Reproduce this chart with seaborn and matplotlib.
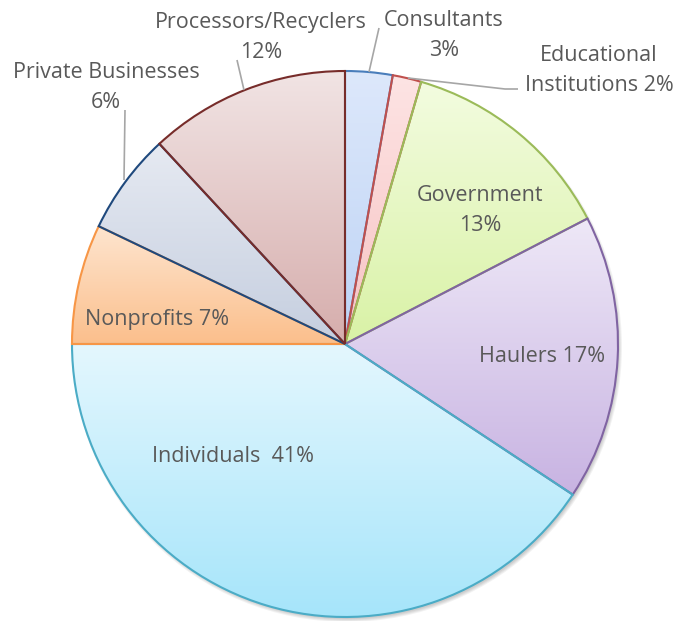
import numpy as np
import matplotlib
matplotlib.use("Agg")
import matplotlib.pyplot as plt
import seaborn as sns
from matplotlib.colors import to_rgb
from matplotlib.patches import Circle

# ---- data -------------------------------------------------------------
categories = ["Consultants", "Educational Institutions", "Government", "Haulers",
              "Individuals", "Nonprofits", "Private Businesses", "Processors/Recyclers"]
shares = [2.8, 1.7, 12.9, 16.9, 40.7, 7.1, 6.0, 11.9]

# label text pieces (name part, separator before the percentage)
label_names = ["Consultants", "Educational\nInstitutions", "Government", "Haulers",
               "Individuals", "Nonprofits", "Private Businesses", "Processors/Recyclers"]
label_seps = ["\n", " ", "\n", " ", "  ", " ", "\n", "\n"]

# ---- style ------------------------------------------------------------
edge_colors = ["#4a7ebb", "#c0504d", "#9bbb59", "#8064a2",
               "#4bacc6", "#f79646", "#1f497d", "#772c2a"]
grad_top = ["#dde8fb", "#fde4e4", "#f3fce0", "#eee8f7",
            "#e4f7fe", "#fee5cf", "#e6eaf2", "#f1e4e4"]
grad_bot = ["#bdd3f5", "#f7c3c3", "#d9f2a6", "#c8b3e2",
            "#a6e5fa", "#fbbf8c", "#c5cedf", "#d6adac"]

sns.set_theme(style="white")
plt.rcParams['font.family'] = ['Open Sans', 'DejaVu Sans']

W, H = 689, 621
fig = plt.figure(figsize=(W / 100, H / 100), dpi=100)
ax = fig.add_axes([0, 0, 1, 1])

cx, cy, R = 345, H - 344, 273

# soft drop shadow
for i, a in enumerate([0.05, 0.05, 0.05, 0.05]):
    ax.add_patch(Circle((cx + 2, cy - 3), R + 2 - i, facecolor="black",
                        edgecolor="none", alpha=a, zorder=1))

wedges, _ = ax.pie(shares, startangle=90, counterclock=False,
                   center=(cx, cy), radius=R, frame=True,
                   wedgeprops=dict(linewidth=1.5))

for w, ec, ct, cb in zip(wedges, edge_colors, grad_top, grad_bot):
    w.set_facecolor("none")
    w.set_edgecolor(ec)
    w.set_zorder(3)
    ext = w.get_path().get_extents()
    t = np.linspace(0, 1, 256)[:, None]
    c0, c1 = np.array(to_rgb(ct)), np.array(to_rgb(cb))
    img = (c0[None, :] * (1 - t) + c1[None, :] * t)[:, None, :]
    im = ax.imshow(img, extent=(ext.x0, ext.x1, ext.y0, ext.y1), origin="upper",
                   aspect="auto", interpolation="bilinear", zorder=2)
    im.set_clip_path(w)

ax.set_xlim(0, W)
ax.set_ylim(0, H)
ax.set_aspect("equal")
ax.axis("off")

# ---- labels -----------------------------------------------------------
tc = "#595959"
fs = 15.5
labels = [f"{n}{s}{round(v)}%" for n, s, v in zip(label_names, label_seps, shares)]
# (x centre, baseline of first line) in pixels from top-left
label_pos = [(444, 26), (599, 61), (480, 201), (542, 362),
             (233, 462), (157, 325), (106, 78), (261, 28)]
line_gap = 30
for txt, (px, py) in zip(labels, label_pos):
    for k, line in enumerate(txt.split("\n")):
        ax.text(px, H - (py + k * line_gap), line, ha="center", va="baseline",
                color=tc, fontsize=fs, zorder=5)

# leader lines
lc = "#a6a6a6"
leaders = [
    [(379, 28), (369, 72)],
    [(408, 78), (505, 89), (518, 89)],
    [(125, 110), (124, 180)],
    [(237, 60), (244, 90)],
]
for pts in leaders:
    xs = [p[0] for p in pts]
    ys = [H - p[1] for p in pts]
    ax.plot(xs, ys, color=lc, lw=1.2, zorder=4, solid_capstyle="butt")

fig.savefig("out.png", dpi=100, facecolor="white")
